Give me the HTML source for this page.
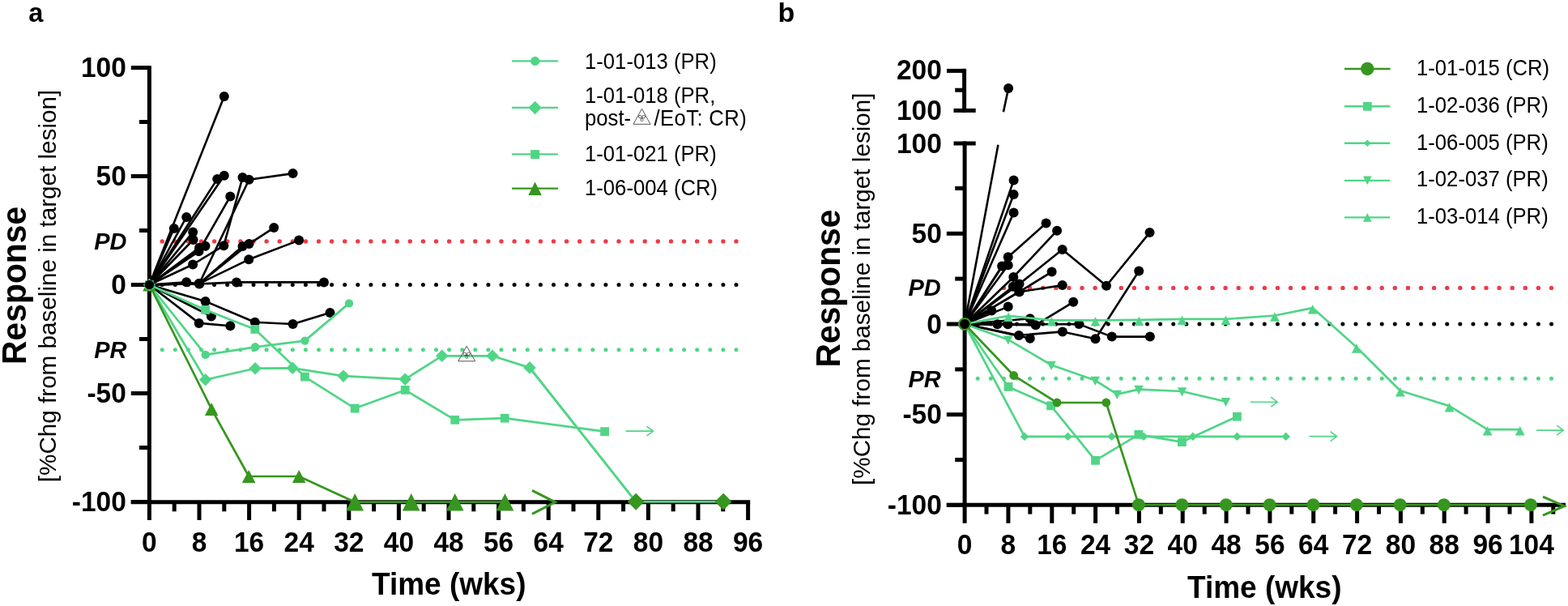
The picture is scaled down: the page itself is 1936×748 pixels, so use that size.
<!DOCTYPE html>
<html><head><meta charset="utf-8"><title>Spider plots</title>
<style>html,body{margin:0;padding:0;background:#fff;}svg{display:block;}</style></head>
<body><svg width="1936" height="748" viewBox="0 0 1936 748">
<rect width="1936" height="748" fill="#fff"/>
<circle cx="200.2" cy="297.9" r="2.7" fill="#ea3d47"/>
<circle cx="216.3" cy="297.9" r="2.7" fill="#ea3d47"/>
<circle cx="232.4" cy="297.9" r="2.7" fill="#ea3d47"/>
<circle cx="248.5" cy="297.9" r="2.7" fill="#ea3d47"/>
<circle cx="264.6" cy="297.9" r="2.7" fill="#ea3d47"/>
<circle cx="280.7" cy="297.9" r="2.7" fill="#ea3d47"/>
<circle cx="296.9" cy="297.9" r="2.7" fill="#ea3d47"/>
<circle cx="313.0" cy="297.9" r="2.7" fill="#ea3d47"/>
<circle cx="329.1" cy="297.9" r="2.7" fill="#ea3d47"/>
<circle cx="345.2" cy="297.9" r="2.7" fill="#ea3d47"/>
<circle cx="361.3" cy="297.9" r="2.7" fill="#ea3d47"/>
<circle cx="377.4" cy="297.9" r="2.7" fill="#ea3d47"/>
<circle cx="393.5" cy="297.9" r="2.7" fill="#ea3d47"/>
<circle cx="409.6" cy="297.9" r="2.7" fill="#ea3d47"/>
<circle cx="425.7" cy="297.9" r="2.7" fill="#ea3d47"/>
<circle cx="441.8" cy="297.9" r="2.7" fill="#ea3d47"/>
<circle cx="457.9" cy="297.9" r="2.7" fill="#ea3d47"/>
<circle cx="474.1" cy="297.9" r="2.7" fill="#ea3d47"/>
<circle cx="490.2" cy="297.9" r="2.7" fill="#ea3d47"/>
<circle cx="506.3" cy="297.9" r="2.7" fill="#ea3d47"/>
<circle cx="522.4" cy="297.9" r="2.7" fill="#ea3d47"/>
<circle cx="538.5" cy="297.9" r="2.7" fill="#ea3d47"/>
<circle cx="554.6" cy="297.9" r="2.7" fill="#ea3d47"/>
<circle cx="570.7" cy="297.9" r="2.7" fill="#ea3d47"/>
<circle cx="586.8" cy="297.9" r="2.7" fill="#ea3d47"/>
<circle cx="602.9" cy="297.9" r="2.7" fill="#ea3d47"/>
<circle cx="619.0" cy="297.9" r="2.7" fill="#ea3d47"/>
<circle cx="635.1" cy="297.9" r="2.7" fill="#ea3d47"/>
<circle cx="651.3" cy="297.9" r="2.7" fill="#ea3d47"/>
<circle cx="667.4" cy="297.9" r="2.7" fill="#ea3d47"/>
<circle cx="683.5" cy="297.9" r="2.7" fill="#ea3d47"/>
<circle cx="699.6" cy="297.9" r="2.7" fill="#ea3d47"/>
<circle cx="715.7" cy="297.9" r="2.7" fill="#ea3d47"/>
<circle cx="731.8" cy="297.9" r="2.7" fill="#ea3d47"/>
<circle cx="747.9" cy="297.9" r="2.7" fill="#ea3d47"/>
<circle cx="764.0" cy="297.9" r="2.7" fill="#ea3d47"/>
<circle cx="780.1" cy="297.9" r="2.7" fill="#ea3d47"/>
<circle cx="796.2" cy="297.9" r="2.7" fill="#ea3d47"/>
<circle cx="812.3" cy="297.9" r="2.7" fill="#ea3d47"/>
<circle cx="828.5" cy="297.9" r="2.7" fill="#ea3d47"/>
<circle cx="844.6" cy="297.9" r="2.7" fill="#ea3d47"/>
<circle cx="860.7" cy="297.9" r="2.7" fill="#ea3d47"/>
<circle cx="876.8" cy="297.9" r="2.7" fill="#ea3d47"/>
<circle cx="892.9" cy="297.9" r="2.7" fill="#ea3d47"/>
<circle cx="909.0" cy="297.9" r="2.7" fill="#ea3d47"/>
<circle cx="200.2" cy="351.4" r="2.5" fill="#000"/>
<circle cx="216.3" cy="351.4" r="2.5" fill="#000"/>
<circle cx="232.4" cy="351.4" r="2.5" fill="#000"/>
<circle cx="248.5" cy="351.4" r="2.5" fill="#000"/>
<circle cx="264.6" cy="351.4" r="2.5" fill="#000"/>
<circle cx="280.7" cy="351.4" r="2.5" fill="#000"/>
<circle cx="296.9" cy="351.4" r="2.5" fill="#000"/>
<circle cx="313.0" cy="351.4" r="2.5" fill="#000"/>
<circle cx="329.1" cy="351.4" r="2.5" fill="#000"/>
<circle cx="345.2" cy="351.4" r="2.5" fill="#000"/>
<circle cx="361.3" cy="351.4" r="2.5" fill="#000"/>
<circle cx="377.4" cy="351.4" r="2.5" fill="#000"/>
<circle cx="393.5" cy="351.4" r="2.5" fill="#000"/>
<circle cx="409.6" cy="351.4" r="2.5" fill="#000"/>
<circle cx="425.7" cy="351.4" r="2.5" fill="#000"/>
<circle cx="441.8" cy="351.4" r="2.5" fill="#000"/>
<circle cx="457.9" cy="351.4" r="2.5" fill="#000"/>
<circle cx="474.1" cy="351.4" r="2.5" fill="#000"/>
<circle cx="490.2" cy="351.4" r="2.5" fill="#000"/>
<circle cx="506.3" cy="351.4" r="2.5" fill="#000"/>
<circle cx="522.4" cy="351.4" r="2.5" fill="#000"/>
<circle cx="538.5" cy="351.4" r="2.5" fill="#000"/>
<circle cx="554.6" cy="351.4" r="2.5" fill="#000"/>
<circle cx="570.7" cy="351.4" r="2.5" fill="#000"/>
<circle cx="586.8" cy="351.4" r="2.5" fill="#000"/>
<circle cx="602.9" cy="351.4" r="2.5" fill="#000"/>
<circle cx="619.0" cy="351.4" r="2.5" fill="#000"/>
<circle cx="635.1" cy="351.4" r="2.5" fill="#000"/>
<circle cx="651.3" cy="351.4" r="2.5" fill="#000"/>
<circle cx="667.4" cy="351.4" r="2.5" fill="#000"/>
<circle cx="683.5" cy="351.4" r="2.5" fill="#000"/>
<circle cx="699.6" cy="351.4" r="2.5" fill="#000"/>
<circle cx="715.7" cy="351.4" r="2.5" fill="#000"/>
<circle cx="731.8" cy="351.4" r="2.5" fill="#000"/>
<circle cx="747.9" cy="351.4" r="2.5" fill="#000"/>
<circle cx="764.0" cy="351.4" r="2.5" fill="#000"/>
<circle cx="780.1" cy="351.4" r="2.5" fill="#000"/>
<circle cx="796.2" cy="351.4" r="2.5" fill="#000"/>
<circle cx="812.3" cy="351.4" r="2.5" fill="#000"/>
<circle cx="828.5" cy="351.4" r="2.5" fill="#000"/>
<circle cx="844.6" cy="351.4" r="2.5" fill="#000"/>
<circle cx="860.7" cy="351.4" r="2.5" fill="#000"/>
<circle cx="876.8" cy="351.4" r="2.5" fill="#000"/>
<circle cx="892.9" cy="351.4" r="2.5" fill="#000"/>
<circle cx="909.0" cy="351.4" r="2.5" fill="#000"/>
<circle cx="200.2" cy="431.8" r="2.5" fill="#50d586"/>
<circle cx="216.3" cy="431.8" r="2.5" fill="#50d586"/>
<circle cx="232.4" cy="431.8" r="2.5" fill="#50d586"/>
<circle cx="248.5" cy="431.8" r="2.5" fill="#50d586"/>
<circle cx="264.6" cy="431.8" r="2.5" fill="#50d586"/>
<circle cx="280.7" cy="431.8" r="2.5" fill="#50d586"/>
<circle cx="296.9" cy="431.8" r="2.5" fill="#50d586"/>
<circle cx="313.0" cy="431.8" r="2.5" fill="#50d586"/>
<circle cx="329.1" cy="431.8" r="2.5" fill="#50d586"/>
<circle cx="345.2" cy="431.8" r="2.5" fill="#50d586"/>
<circle cx="361.3" cy="431.8" r="2.5" fill="#50d586"/>
<circle cx="377.4" cy="431.8" r="2.5" fill="#50d586"/>
<circle cx="393.5" cy="431.8" r="2.5" fill="#50d586"/>
<circle cx="409.6" cy="431.8" r="2.5" fill="#50d586"/>
<circle cx="425.7" cy="431.8" r="2.5" fill="#50d586"/>
<circle cx="441.8" cy="431.8" r="2.5" fill="#50d586"/>
<circle cx="457.9" cy="431.8" r="2.5" fill="#50d586"/>
<circle cx="474.1" cy="431.8" r="2.5" fill="#50d586"/>
<circle cx="490.2" cy="431.8" r="2.5" fill="#50d586"/>
<circle cx="506.3" cy="431.8" r="2.5" fill="#50d586"/>
<circle cx="522.4" cy="431.8" r="2.5" fill="#50d586"/>
<circle cx="538.5" cy="431.8" r="2.5" fill="#50d586"/>
<circle cx="554.6" cy="431.8" r="2.5" fill="#50d586"/>
<circle cx="570.7" cy="431.8" r="2.5" fill="#50d586"/>
<circle cx="586.8" cy="431.8" r="2.5" fill="#50d586"/>
<circle cx="602.9" cy="431.8" r="2.5" fill="#50d586"/>
<circle cx="619.0" cy="431.8" r="2.5" fill="#50d586"/>
<circle cx="635.1" cy="431.8" r="2.5" fill="#50d586"/>
<circle cx="651.3" cy="431.8" r="2.5" fill="#50d586"/>
<circle cx="667.4" cy="431.8" r="2.5" fill="#50d586"/>
<circle cx="683.5" cy="431.8" r="2.5" fill="#50d586"/>
<circle cx="699.6" cy="431.8" r="2.5" fill="#50d586"/>
<circle cx="715.7" cy="431.8" r="2.5" fill="#50d586"/>
<circle cx="731.8" cy="431.8" r="2.5" fill="#50d586"/>
<circle cx="747.9" cy="431.8" r="2.5" fill="#50d586"/>
<circle cx="764.0" cy="431.8" r="2.5" fill="#50d586"/>
<circle cx="780.1" cy="431.8" r="2.5" fill="#50d586"/>
<circle cx="796.2" cy="431.8" r="2.5" fill="#50d586"/>
<circle cx="812.3" cy="431.8" r="2.5" fill="#50d586"/>
<circle cx="828.5" cy="431.8" r="2.5" fill="#50d586"/>
<circle cx="844.6" cy="431.8" r="2.5" fill="#50d586"/>
<circle cx="860.7" cy="431.8" r="2.5" fill="#50d586"/>
<circle cx="876.8" cy="431.8" r="2.5" fill="#50d586"/>
<circle cx="892.9" cy="431.8" r="2.5" fill="#50d586"/>
<circle cx="909.0" cy="431.8" r="2.5" fill="#50d586"/>
<polyline points="184.4,351.5 276.8,118.9" fill="none" stroke="#000" stroke-width="2.6" stroke-linejoin="round"/>
<polyline points="184.4,351.5 214.8,281.9" fill="none" stroke="#000" stroke-width="2.6" stroke-linejoin="round"/>
<polyline points="184.4,351.5 230.2,267.9" fill="none" stroke="#000" stroke-width="2.6" stroke-linejoin="round"/>
<polyline points="184.4,351.5 268.2,221.1" fill="none" stroke="#000" stroke-width="2.6" stroke-linejoin="round"/>
<polyline points="184.4,351.5 276.8,216.8" fill="none" stroke="#000" stroke-width="2.6" stroke-linejoin="round"/>
<polyline points="184.4,351.5 245.4,310.3 284.3,242.5" fill="none" stroke="#000" stroke-width="2.6" stroke-linejoin="round"/>
<polyline points="184.4,351.5 238.2,286.6" fill="none" stroke="#000" stroke-width="2.6" stroke-linejoin="round"/>
<polyline points="184.4,351.5 238.6,296.0" fill="none" stroke="#000" stroke-width="2.6" stroke-linejoin="round"/>
<polyline points="184.4,351.5 253.5,303.7" fill="none" stroke="#000" stroke-width="2.6" stroke-linejoin="round"/>
<polyline points="184.4,351.5 238.1,326.5 276.3,303.2 299.5,219.1" fill="none" stroke="#000" stroke-width="2.6" stroke-linejoin="round"/>
<polyline points="184.4,351.5 246.1,350.0 307.5,221.8 361.6,214.1" fill="none" stroke="#000" stroke-width="2.6" stroke-linejoin="round"/>
<polyline points="184.4,351.5 246.1,350.0 299.5,303.9" fill="none" stroke="#000" stroke-width="2.6" stroke-linejoin="round"/>
<polyline points="184.4,351.5 246.1,350.0 307.5,301.1 338.2,281.1" fill="none" stroke="#000" stroke-width="2.6" stroke-linejoin="round"/>
<polyline points="184.4,351.5 246.1,350.0 307.2,320.3 369.1,296.6" fill="none" stroke="#000" stroke-width="2.6" stroke-linejoin="round"/>
<polyline points="184.4,351.5 246.1,305.7" fill="none" stroke="#000" stroke-width="2.6" stroke-linejoin="round"/>
<polyline points="184.4,351.5 230.2,348.2 246.1,350.5 292.0,348.4 400.0,348.4" fill="none" stroke="#000" stroke-width="2.6" stroke-linejoin="round"/>
<polyline points="184.4,351.5 253.6,372.0 314.8,397.7 361.6,400.0 407.5,385.9" fill="none" stroke="#000" stroke-width="2.6" stroke-linejoin="round"/>
<polyline points="184.4,351.5 260.9,390.5" fill="none" stroke="#000" stroke-width="2.6" stroke-linejoin="round"/>
<polyline points="184.4,351.5 245.7,398.9 284.3,402.3" fill="none" stroke="#000" stroke-width="2.6" stroke-linejoin="round"/>
<circle cx="276.8" cy="118.9" r="6.0" fill="#000"/>
<circle cx="214.8" cy="281.9" r="6.0" fill="#000"/>
<circle cx="230.2" cy="267.9" r="6.0" fill="#000"/>
<circle cx="268.2" cy="221.1" r="6.0" fill="#000"/>
<circle cx="276.8" cy="216.8" r="6.0" fill="#000"/>
<circle cx="245.4" cy="310.3" r="6.0" fill="#000"/>
<circle cx="284.3" cy="242.5" r="6.0" fill="#000"/>
<circle cx="238.2" cy="286.6" r="6.0" fill="#000"/>
<circle cx="238.6" cy="296.0" r="6.0" fill="#000"/>
<circle cx="253.5" cy="303.7" r="6.0" fill="#000"/>
<circle cx="238.1" cy="326.5" r="6.0" fill="#000"/>
<circle cx="276.3" cy="303.2" r="6.0" fill="#000"/>
<circle cx="299.5" cy="219.1" r="6.0" fill="#000"/>
<circle cx="246.1" cy="350.0" r="6.0" fill="#000"/>
<circle cx="307.5" cy="221.8" r="6.0" fill="#000"/>
<circle cx="361.6" cy="214.1" r="6.0" fill="#000"/>
<circle cx="246.1" cy="350.0" r="6.0" fill="#000"/>
<circle cx="299.5" cy="303.9" r="6.0" fill="#000"/>
<circle cx="246.1" cy="350.0" r="6.0" fill="#000"/>
<circle cx="307.5" cy="301.1" r="6.0" fill="#000"/>
<circle cx="338.2" cy="281.1" r="6.0" fill="#000"/>
<circle cx="246.1" cy="350.0" r="6.0" fill="#000"/>
<circle cx="307.2" cy="320.3" r="6.0" fill="#000"/>
<circle cx="369.1" cy="296.6" r="6.0" fill="#000"/>
<circle cx="246.1" cy="305.7" r="6.0" fill="#000"/>
<circle cx="230.2" cy="348.2" r="6.0" fill="#000"/>
<circle cx="246.1" cy="350.5" r="6.0" fill="#000"/>
<circle cx="292.0" cy="348.4" r="6.0" fill="#000"/>
<circle cx="400.0" cy="348.4" r="6.0" fill="#000"/>
<circle cx="253.6" cy="372.0" r="6.0" fill="#000"/>
<circle cx="314.8" cy="397.7" r="6.0" fill="#000"/>
<circle cx="361.6" cy="400.0" r="6.0" fill="#000"/>
<circle cx="407.5" cy="385.9" r="6.0" fill="#000"/>
<circle cx="260.9" cy="390.5" r="6.0" fill="#000"/>
<circle cx="245.7" cy="398.9" r="6.0" fill="#000"/>
<circle cx="284.3" cy="402.3" r="6.0" fill="#000"/>
<polyline points="184.4,351.5 253.7,437.9 315.1,428.3 376.4,420.6 431.0,374.4" fill="none" stroke="#50d586" stroke-width="2.7" stroke-linejoin="round"/>
<circle cx="253.7" cy="437.9" r="5.2" fill="#50d586"/>
<circle cx="315.1" cy="428.3" r="5.2" fill="#50d586"/>
<circle cx="376.4" cy="420.6" r="5.2" fill="#50d586"/>
<circle cx="431.0" cy="374.4" r="5.2" fill="#50d586"/>
<polyline points="184.4,351.5 253.6,382.5 314.8,406.4 376.4,465.1 438.2,504.1 500.2,481.4 561.7,518.3 623.2,516.2 746.6,532.7" fill="none" stroke="#50d586" stroke-width="2.7" stroke-linejoin="round"/>
<rect x="248.2" y="377.1" width="10.8" height="10.8" fill="#50d586"/>
<rect x="309.4" y="401.0" width="10.8" height="10.8" fill="#50d586"/>
<rect x="371.0" y="459.7" width="10.8" height="10.8" fill="#50d586"/>
<rect x="432.8" y="498.7" width="10.8" height="10.8" fill="#50d586"/>
<rect x="494.8" y="476.0" width="10.8" height="10.8" fill="#50d586"/>
<rect x="556.3" y="512.9" width="10.8" height="10.8" fill="#50d586"/>
<rect x="617.8" y="510.8" width="10.8" height="10.8" fill="#50d586"/>
<rect x="741.2" y="527.3" width="10.8" height="10.8" fill="#50d586"/>
<path d="M772.7,532.1 H806.5 M798.5,526.1 L806.5,532.1 L798.5,538.1" fill="none" stroke="#50d586" stroke-width="1.6"/>
<polyline points="184.4,351.5 253.7,468.7 315.1,454.7 361.2,454.3 424.0,464.1 500.2,468.1 545.7,439.3 608.0,439.3 654.0,453.9 785.1,619.3 893.1,619.3" fill="none" stroke="#50d586" stroke-width="2.7" stroke-linejoin="round"/>
<polygon points="253.7,460.9 261.4,468.7 253.7,476.4 245.9,468.7" fill="#50d586"/>
<polygon points="315.1,446.9 322.9,454.7 315.1,462.4 307.4,454.7" fill="#50d586"/>
<polygon points="361.2,446.6 368.9,454.3 361.2,462.1 353.4,454.3" fill="#50d586"/>
<polygon points="424.0,456.4 431.8,464.1 424.0,471.9 416.2,464.1" fill="#50d586"/>
<polygon points="500.2,460.4 507.9,468.1 500.2,475.9 492.4,468.1" fill="#50d586"/>
<polygon points="545.7,431.6 553.5,439.3 545.7,447.1 538.0,439.3" fill="#50d586"/>
<polygon points="608.0,431.6 615.8,439.3 608.0,447.1 600.2,439.3" fill="#50d586"/>
<polygon points="654.0,446.1 661.8,453.9 654.0,461.6 646.2,453.9" fill="#50d586"/>
<polygon points="785.1,609.0 795.4,619.3 785.1,629.5 774.9,619.3" fill="#36961f"/>
<polygon points="893.1,609.0 903.4,619.3 893.1,629.5 882.9,619.3" fill="#36961f"/>
<g><polygon points="576.2,427.2 586.7,445.8 565.7,445.8" fill="none" stroke="#555" stroke-width="1" stroke-linejoin="round"/>
<g fill="none" stroke="#444" stroke-width="0.8"><circle cx="573.9" cy="436.8" r="1.8"/><circle cx="578.5" cy="436.8" r="1.8"/><circle cx="576.2" cy="440.7" r="1.6"/><circle cx="576.2" cy="438.5" r="0.8"/></g></g>
<line x1="184.4" y1="81.2" x2="184.4" y2="622.3" stroke="#000" stroke-width="5" stroke-linecap="butt"/>
<line x1="161.8" y1="83.6" x2="184.4" y2="83.6" stroke="#000" stroke-width="5" stroke-linecap="butt"/>
<line x1="161.8" y1="217.5" x2="184.4" y2="217.5" stroke="#000" stroke-width="5" stroke-linecap="butt"/>
<line x1="161.8" y1="351.5" x2="184.4" y2="351.5" stroke="#000" stroke-width="5" stroke-linecap="butt"/>
<line x1="161.8" y1="485.5" x2="184.4" y2="485.5" stroke="#000" stroke-width="5" stroke-linecap="butt"/>
<line x1="161.8" y1="619.5" x2="184.4" y2="619.5" stroke="#000" stroke-width="5" stroke-linecap="butt"/>
<line x1="172.0" y1="150.5" x2="184.4" y2="150.5" stroke="#000" stroke-width="5" stroke-linecap="butt"/>
<line x1="172.0" y1="284.5" x2="184.4" y2="284.5" stroke="#000" stroke-width="5" stroke-linecap="butt"/>
<line x1="172.0" y1="418.5" x2="184.4" y2="418.5" stroke="#000" stroke-width="5" stroke-linecap="butt"/>
<line x1="172.0" y1="552.5" x2="184.4" y2="552.5" stroke="#000" stroke-width="5" stroke-linecap="butt"/>
<line x1="161.8" y1="619.7" x2="926.2" y2="619.7" stroke="#000" stroke-width="5" stroke-linecap="butt"/>
<line x1="184.4" y1="619.7" x2="184.4" y2="642.0" stroke="#000" stroke-width="5" stroke-linecap="butt"/>
<line x1="246.0" y1="619.7" x2="246.0" y2="642.0" stroke="#000" stroke-width="5" stroke-linecap="butt"/>
<line x1="307.6" y1="619.7" x2="307.6" y2="642.0" stroke="#000" stroke-width="5" stroke-linecap="butt"/>
<line x1="369.2" y1="619.7" x2="369.2" y2="642.0" stroke="#000" stroke-width="5" stroke-linecap="butt"/>
<line x1="430.8" y1="619.7" x2="430.8" y2="642.0" stroke="#000" stroke-width="5" stroke-linecap="butt"/>
<line x1="492.4" y1="619.7" x2="492.4" y2="642.0" stroke="#000" stroke-width="5" stroke-linecap="butt"/>
<line x1="554.0" y1="619.7" x2="554.0" y2="642.0" stroke="#000" stroke-width="5" stroke-linecap="butt"/>
<line x1="615.6" y1="619.7" x2="615.6" y2="642.0" stroke="#000" stroke-width="5" stroke-linecap="butt"/>
<line x1="677.2" y1="619.7" x2="677.2" y2="642.0" stroke="#000" stroke-width="5" stroke-linecap="butt"/>
<line x1="738.8" y1="619.7" x2="738.8" y2="642.0" stroke="#000" stroke-width="5" stroke-linecap="butt"/>
<line x1="800.4" y1="619.7" x2="800.4" y2="642.0" stroke="#000" stroke-width="5" stroke-linecap="butt"/>
<line x1="862.0" y1="619.7" x2="862.0" y2="642.0" stroke="#000" stroke-width="5" stroke-linecap="butt"/>
<line x1="923.6" y1="619.7" x2="923.6" y2="642.0" stroke="#000" stroke-width="5" stroke-linecap="butt"/>
<line x1="215.2" y1="619.7" x2="215.2" y2="631.3" stroke="#000" stroke-width="5" stroke-linecap="butt"/>
<line x1="276.8" y1="619.7" x2="276.8" y2="631.3" stroke="#000" stroke-width="5" stroke-linecap="butt"/>
<line x1="338.4" y1="619.7" x2="338.4" y2="631.3" stroke="#000" stroke-width="5" stroke-linecap="butt"/>
<line x1="400.0" y1="619.7" x2="400.0" y2="631.3" stroke="#000" stroke-width="5" stroke-linecap="butt"/>
<line x1="461.6" y1="619.7" x2="461.6" y2="631.3" stroke="#000" stroke-width="5" stroke-linecap="butt"/>
<line x1="523.2" y1="619.7" x2="523.2" y2="631.3" stroke="#000" stroke-width="5" stroke-linecap="butt"/>
<line x1="584.8" y1="619.7" x2="584.8" y2="631.3" stroke="#000" stroke-width="5" stroke-linecap="butt"/>
<line x1="646.4" y1="619.7" x2="646.4" y2="631.3" stroke="#000" stroke-width="5" stroke-linecap="butt"/>
<line x1="708.0" y1="619.7" x2="708.0" y2="631.3" stroke="#000" stroke-width="5" stroke-linecap="butt"/>
<line x1="769.6" y1="619.7" x2="769.6" y2="631.3" stroke="#000" stroke-width="5" stroke-linecap="butt"/>
<line x1="831.2" y1="619.7" x2="831.2" y2="631.3" stroke="#000" stroke-width="5" stroke-linecap="butt"/>
<line x1="892.8" y1="619.7" x2="892.8" y2="631.3" stroke="#000" stroke-width="5" stroke-linecap="butt"/>
<polyline points="184.4,351.5 261.2,505.0 307.2,588.0 369.2,588.0 438.2,619.7 507.7,619.7 561.7,619.7 623.5,619.7" fill="none" stroke="#36961f" stroke-width="2.7" stroke-linejoin="round"/>
<polygon points="261.2,497.0 269.4,513.0 252.9,513.0" fill="#36961f"/>
<polygon points="307.2,580.0 315.4,596.0 298.9,596.0" fill="#36961f"/>
<polygon points="369.2,580.0 377.4,596.0 360.9,596.0" fill="#36961f"/>
<polygon points="438.2,608.9 449.1,630.6 427.3,630.6" fill="#36961f"/>
<polygon points="507.7,608.9 518.5,630.6 496.8,630.6" fill="#36961f"/>
<polygon points="561.7,608.9 572.6,630.6 550.9,630.6" fill="#36961f"/>
<polygon points="623.5,608.9 634.4,630.6 612.6,630.6" fill="#36961f"/>
<path d="M657.0,605.3 L685.5,619.8 L657.0,634.3" fill="none" stroke="#36961f" stroke-width="3"/>
<polygon points="184.4,343.5 192.7,359.5 176.2,359.5" fill="#36961f"/>
<polygon points="184.4,343.8 192.2,351.5 184.4,359.2 176.7,351.5" fill="#50d586"/>
<rect x="179.0" y="346.1" width="10.8" height="10.8" fill="#50d586"/>
<circle cx="184.4" cy="351.5" r="5.2" fill="#50d586"/>
<circle cx="184.4" cy="351.5" r="5.8" fill="#000"/>
<polyline points="654.0,453.9 785.1,619.3 893.1,619.3" fill="none" stroke="#50d586" stroke-width="2.7" stroke-linejoin="round"/>
<polygon points="785.1,609.0 795.4,619.3 785.1,629.5 774.9,619.3" fill="#36961f"/>
<polygon points="893.1,609.0 903.4,619.3 893.1,629.5 882.9,619.3" fill="#36961f"/>
<g font-family="'Liberation Sans', Arial, Helvetica, sans-serif" fill="#000">
<text transform="translate(35.3,27.3) scale(1,1.0)" font-size="32.5" font-weight="bold" font-style="normal" text-anchor="start" >a</text>
<text transform="translate(155.8,95.2) scale(1,1.065)" font-size="33.5" font-weight="bold" font-style="normal" text-anchor="end" >100</text>
<text transform="translate(155.8,229.1) scale(1,1.065)" font-size="33.5" font-weight="bold" font-style="normal" text-anchor="end" >50</text>
<text transform="translate(155.8,363.1) scale(1,1.065)" font-size="33.5" font-weight="bold" font-style="normal" text-anchor="end" >0</text>
<text transform="translate(155.8,497.1) scale(1,1.065)" font-size="33.5" font-weight="bold" font-style="normal" text-anchor="end" >-50</text>
<text transform="translate(155.8,631.1) scale(1,1.065)" font-size="33.5" font-weight="bold" font-style="normal" text-anchor="end" >-100</text>
<text transform="translate(156.5,308.2) scale(1,1.045)" font-size="29" font-weight="bold" font-style="italic" text-anchor="end" >PD</text>
<text transform="translate(156.5,442.3) scale(1,1.045)" font-size="29" font-weight="bold" font-style="italic" text-anchor="end" >PR</text>
<text transform="translate(184.4,680.6) scale(1,1.065)" font-size="33.5" font-weight="bold" font-style="normal" text-anchor="middle" >0</text>
<text transform="translate(246.0,680.6) scale(1,1.065)" font-size="33.5" font-weight="bold" font-style="normal" text-anchor="middle" >8</text>
<text transform="translate(307.6,680.6) scale(1,1.065)" font-size="33.5" font-weight="bold" font-style="normal" text-anchor="middle" >16</text>
<text transform="translate(369.2,680.6) scale(1,1.065)" font-size="33.5" font-weight="bold" font-style="normal" text-anchor="middle" >24</text>
<text transform="translate(430.8,680.6) scale(1,1.065)" font-size="33.5" font-weight="bold" font-style="normal" text-anchor="middle" >32</text>
<text transform="translate(492.4,680.6) scale(1,1.065)" font-size="33.5" font-weight="bold" font-style="normal" text-anchor="middle" >40</text>
<text transform="translate(554.0,680.6) scale(1,1.065)" font-size="33.5" font-weight="bold" font-style="normal" text-anchor="middle" >48</text>
<text transform="translate(615.6,680.6) scale(1,1.065)" font-size="33.5" font-weight="bold" font-style="normal" text-anchor="middle" >56</text>
<text transform="translate(677.2,680.6) scale(1,1.065)" font-size="33.5" font-weight="bold" font-style="normal" text-anchor="middle" >64</text>
<text transform="translate(738.8,680.6) scale(1,1.065)" font-size="33.5" font-weight="bold" font-style="normal" text-anchor="middle" >72</text>
<text transform="translate(800.4,680.6) scale(1,1.065)" font-size="33.5" font-weight="bold" font-style="normal" text-anchor="middle" >80</text>
<text transform="translate(862.0,680.6) scale(1,1.065)" font-size="33.5" font-weight="bold" font-style="normal" text-anchor="middle" >88</text>
<text transform="translate(923.6,680.6) scale(1,1.065)" font-size="33.5" font-weight="bold" font-style="normal" text-anchor="middle" >96</text>
<text transform="translate(459.0,734.0) scale(1,1.045)" font-size="37" font-weight="bold" font-style="normal" text-anchor="start" >Time (wks)</text>
<text transform="translate(31.8,352.4) rotate(-90) scale(1,1.035)" font-size="40.8" font-weight="bold" text-anchor="middle">Response</text>
<text transform="translate(68.6,353.0) rotate(-90) scale(1,1.02)" font-size="29.65" font-weight="normal" text-anchor="middle">[%Chg from baseline in target lesion]</text>
</g>
<line x1="632.0" y1="75.4" x2="689.0" y2="75.4" stroke="#50d586" stroke-width="2.4" stroke-linecap="butt"/>
<circle cx="660.6" cy="75.4" r="5.6" fill="#50d586"/>
<line x1="632.0" y1="132.9" x2="689.0" y2="132.9" stroke="#50d586" stroke-width="2.4" stroke-linecap="butt"/>
<polygon points="660.6,124.7 668.9,132.9 660.6,141.2 652.4,132.9" fill="#50d586"/>
<line x1="632.0" y1="190.4" x2="689.0" y2="190.4" stroke="#50d586" stroke-width="2.4" stroke-linecap="butt"/>
<rect x="655.1" y="185.1" width="11" height="11" fill="#50d586"/>
<line x1="632.0" y1="232.6" x2="689.0" y2="232.6" stroke="#36961f" stroke-width="2.4" stroke-linecap="butt"/>
<polygon points="660.6,224.5 668.9,240.9 652.3,240.9" fill="#36961f"/>
<g font-family="'Liberation Sans', Arial, Helvetica, sans-serif" fill="#000" font-size="25.7">
<text transform="translate(722.0,84.5) scale(1,1.045)" font-size="25.7" font-weight="normal" font-style="normal" text-anchor="start" >1-01-013 (PR)</text>
<text transform="translate(722.0,126.5) scale(1,1.045)" font-size="25.7" font-weight="normal" font-style="normal" text-anchor="start" >1-01-018 (PR,</text>
<text transform="translate(722.0,154.5) scale(1,1.045)" font-size="25.7" font-weight="normal" font-style="normal" text-anchor="start" >post-</text>
<text transform="translate(807.6,154.5) scale(1,1.045)" font-size="25.7" font-weight="normal" font-style="normal" text-anchor="start" letter-spacing="0.35">/EoT: CR)</text>
<text transform="translate(722.0,198.5) scale(1,1.045)" font-size="25.7" font-weight="normal" font-style="normal" text-anchor="start" >1-01-021 (PR)</text>
<text transform="translate(722.0,240.5) scale(1,1.045)" font-size="25.7" font-weight="normal" font-style="normal" text-anchor="start" >1-06-004 (CR)</text>
</g>
<g><polygon points="792.5,134.3 803.0,153.3 782.0,153.3" fill="none" stroke="#555" stroke-width="1" stroke-linejoin="round"/>
<g fill="none" stroke="#444" stroke-width="0.8"><circle cx="790.2" cy="144.1" r="1.8"/><circle cx="794.8" cy="144.1" r="1.8"/><circle cx="792.5" cy="148.0" r="1.6"/><circle cx="792.5" cy="145.8" r="0.8"/></g></g>
<circle cx="1239.4" cy="355.4" r="2.7" fill="#ea3d47"/>
<circle cx="1255.5" cy="355.4" r="2.7" fill="#ea3d47"/>
<circle cx="1271.6" cy="355.4" r="2.7" fill="#ea3d47"/>
<circle cx="1287.7" cy="355.4" r="2.7" fill="#ea3d47"/>
<circle cx="1303.8" cy="355.4" r="2.7" fill="#ea3d47"/>
<circle cx="1319.9" cy="355.4" r="2.7" fill="#ea3d47"/>
<circle cx="1336.0" cy="355.4" r="2.7" fill="#ea3d47"/>
<circle cx="1352.1" cy="355.4" r="2.7" fill="#ea3d47"/>
<circle cx="1368.2" cy="355.4" r="2.7" fill="#ea3d47"/>
<circle cx="1384.3" cy="355.4" r="2.7" fill="#ea3d47"/>
<circle cx="1400.4" cy="355.4" r="2.7" fill="#ea3d47"/>
<circle cx="1416.5" cy="355.4" r="2.7" fill="#ea3d47"/>
<circle cx="1432.6" cy="355.4" r="2.7" fill="#ea3d47"/>
<circle cx="1448.7" cy="355.4" r="2.7" fill="#ea3d47"/>
<circle cx="1464.8" cy="355.4" r="2.7" fill="#ea3d47"/>
<circle cx="1480.9" cy="355.4" r="2.7" fill="#ea3d47"/>
<circle cx="1497.0" cy="355.4" r="2.7" fill="#ea3d47"/>
<circle cx="1513.1" cy="355.4" r="2.7" fill="#ea3d47"/>
<circle cx="1529.2" cy="355.4" r="2.7" fill="#ea3d47"/>
<circle cx="1545.3" cy="355.4" r="2.7" fill="#ea3d47"/>
<circle cx="1561.4" cy="355.4" r="2.7" fill="#ea3d47"/>
<circle cx="1577.5" cy="355.4" r="2.7" fill="#ea3d47"/>
<circle cx="1593.5" cy="355.4" r="2.7" fill="#ea3d47"/>
<circle cx="1609.6" cy="355.4" r="2.7" fill="#ea3d47"/>
<circle cx="1625.7" cy="355.4" r="2.7" fill="#ea3d47"/>
<circle cx="1641.8" cy="355.4" r="2.7" fill="#ea3d47"/>
<circle cx="1657.9" cy="355.4" r="2.7" fill="#ea3d47"/>
<circle cx="1674.0" cy="355.4" r="2.7" fill="#ea3d47"/>
<circle cx="1690.1" cy="355.4" r="2.7" fill="#ea3d47"/>
<circle cx="1706.2" cy="355.4" r="2.7" fill="#ea3d47"/>
<circle cx="1722.3" cy="355.4" r="2.7" fill="#ea3d47"/>
<circle cx="1738.4" cy="355.4" r="2.7" fill="#ea3d47"/>
<circle cx="1754.5" cy="355.4" r="2.7" fill="#ea3d47"/>
<circle cx="1770.6" cy="355.4" r="2.7" fill="#ea3d47"/>
<circle cx="1786.7" cy="355.4" r="2.7" fill="#ea3d47"/>
<circle cx="1802.8" cy="355.4" r="2.7" fill="#ea3d47"/>
<circle cx="1818.9" cy="355.4" r="2.7" fill="#ea3d47"/>
<circle cx="1835.0" cy="355.4" r="2.7" fill="#ea3d47"/>
<circle cx="1851.1" cy="355.4" r="2.7" fill="#ea3d47"/>
<circle cx="1867.2" cy="355.4" r="2.7" fill="#ea3d47"/>
<circle cx="1883.3" cy="355.4" r="2.7" fill="#ea3d47"/>
<circle cx="1899.4" cy="355.4" r="2.7" fill="#ea3d47"/>
<circle cx="1915.5" cy="355.4" r="2.7" fill="#ea3d47"/>
<circle cx="1207.2" cy="400.1" r="2.5" fill="#000"/>
<circle cx="1223.3" cy="400.1" r="2.5" fill="#000"/>
<circle cx="1239.4" cy="400.1" r="2.5" fill="#000"/>
<circle cx="1255.5" cy="400.1" r="2.5" fill="#000"/>
<circle cx="1271.6" cy="400.1" r="2.5" fill="#000"/>
<circle cx="1287.7" cy="400.1" r="2.5" fill="#000"/>
<circle cx="1303.8" cy="400.1" r="2.5" fill="#000"/>
<circle cx="1319.9" cy="400.1" r="2.5" fill="#000"/>
<circle cx="1336.0" cy="400.1" r="2.5" fill="#000"/>
<circle cx="1352.1" cy="400.1" r="2.5" fill="#000"/>
<circle cx="1368.2" cy="400.1" r="2.5" fill="#000"/>
<circle cx="1384.3" cy="400.1" r="2.5" fill="#000"/>
<circle cx="1400.4" cy="400.1" r="2.5" fill="#000"/>
<circle cx="1416.5" cy="400.1" r="2.5" fill="#000"/>
<circle cx="1432.6" cy="400.1" r="2.5" fill="#000"/>
<circle cx="1448.7" cy="400.1" r="2.5" fill="#000"/>
<circle cx="1464.8" cy="400.1" r="2.5" fill="#000"/>
<circle cx="1480.9" cy="400.1" r="2.5" fill="#000"/>
<circle cx="1497.0" cy="400.1" r="2.5" fill="#000"/>
<circle cx="1513.1" cy="400.1" r="2.5" fill="#000"/>
<circle cx="1529.2" cy="400.1" r="2.5" fill="#000"/>
<circle cx="1545.3" cy="400.1" r="2.5" fill="#000"/>
<circle cx="1561.3" cy="400.1" r="2.5" fill="#000"/>
<circle cx="1577.4" cy="400.1" r="2.5" fill="#000"/>
<circle cx="1593.5" cy="400.1" r="2.5" fill="#000"/>
<circle cx="1609.6" cy="400.1" r="2.5" fill="#000"/>
<circle cx="1625.7" cy="400.1" r="2.5" fill="#000"/>
<circle cx="1641.8" cy="400.1" r="2.5" fill="#000"/>
<circle cx="1657.9" cy="400.1" r="2.5" fill="#000"/>
<circle cx="1674.0" cy="400.1" r="2.5" fill="#000"/>
<circle cx="1690.1" cy="400.1" r="2.5" fill="#000"/>
<circle cx="1706.2" cy="400.1" r="2.5" fill="#000"/>
<circle cx="1722.3" cy="400.1" r="2.5" fill="#000"/>
<circle cx="1738.4" cy="400.1" r="2.5" fill="#000"/>
<circle cx="1754.5" cy="400.1" r="2.5" fill="#000"/>
<circle cx="1770.6" cy="400.1" r="2.5" fill="#000"/>
<circle cx="1786.7" cy="400.1" r="2.5" fill="#000"/>
<circle cx="1802.8" cy="400.1" r="2.5" fill="#000"/>
<circle cx="1818.9" cy="400.1" r="2.5" fill="#000"/>
<circle cx="1835.0" cy="400.1" r="2.5" fill="#000"/>
<circle cx="1851.1" cy="400.1" r="2.5" fill="#000"/>
<circle cx="1867.2" cy="400.1" r="2.5" fill="#000"/>
<circle cx="1883.3" cy="400.1" r="2.5" fill="#000"/>
<circle cx="1899.4" cy="400.1" r="2.5" fill="#000"/>
<circle cx="1915.5" cy="400.1" r="2.5" fill="#000"/>
<circle cx="1207.2" cy="467.2" r="2.5" fill="#50d586"/>
<circle cx="1223.3" cy="467.2" r="2.5" fill="#50d586"/>
<circle cx="1239.4" cy="467.2" r="2.5" fill="#50d586"/>
<circle cx="1255.5" cy="467.2" r="2.5" fill="#50d586"/>
<circle cx="1271.6" cy="467.2" r="2.5" fill="#50d586"/>
<circle cx="1287.7" cy="467.2" r="2.5" fill="#50d586"/>
<circle cx="1303.8" cy="467.2" r="2.5" fill="#50d586"/>
<circle cx="1319.9" cy="467.2" r="2.5" fill="#50d586"/>
<circle cx="1336.0" cy="467.2" r="2.5" fill="#50d586"/>
<circle cx="1352.1" cy="467.2" r="2.5" fill="#50d586"/>
<circle cx="1368.2" cy="467.2" r="2.5" fill="#50d586"/>
<circle cx="1384.3" cy="467.2" r="2.5" fill="#50d586"/>
<circle cx="1400.4" cy="467.2" r="2.5" fill="#50d586"/>
<circle cx="1416.5" cy="467.2" r="2.5" fill="#50d586"/>
<circle cx="1432.6" cy="467.2" r="2.5" fill="#50d586"/>
<circle cx="1448.7" cy="467.2" r="2.5" fill="#50d586"/>
<circle cx="1464.8" cy="467.2" r="2.5" fill="#50d586"/>
<circle cx="1480.9" cy="467.2" r="2.5" fill="#50d586"/>
<circle cx="1497.0" cy="467.2" r="2.5" fill="#50d586"/>
<circle cx="1513.1" cy="467.2" r="2.5" fill="#50d586"/>
<circle cx="1529.2" cy="467.2" r="2.5" fill="#50d586"/>
<circle cx="1545.3" cy="467.2" r="2.5" fill="#50d586"/>
<circle cx="1561.3" cy="467.2" r="2.5" fill="#50d586"/>
<circle cx="1577.4" cy="467.2" r="2.5" fill="#50d586"/>
<circle cx="1593.5" cy="467.2" r="2.5" fill="#50d586"/>
<circle cx="1609.6" cy="467.2" r="2.5" fill="#50d586"/>
<circle cx="1625.7" cy="467.2" r="2.5" fill="#50d586"/>
<circle cx="1641.8" cy="467.2" r="2.5" fill="#50d586"/>
<circle cx="1657.9" cy="467.2" r="2.5" fill="#50d586"/>
<circle cx="1674.0" cy="467.2" r="2.5" fill="#50d586"/>
<circle cx="1690.1" cy="467.2" r="2.5" fill="#50d586"/>
<circle cx="1706.2" cy="467.2" r="2.5" fill="#50d586"/>
<circle cx="1722.3" cy="467.2" r="2.5" fill="#50d586"/>
<circle cx="1738.4" cy="467.2" r="2.5" fill="#50d586"/>
<circle cx="1754.5" cy="467.2" r="2.5" fill="#50d586"/>
<circle cx="1770.6" cy="467.2" r="2.5" fill="#50d586"/>
<circle cx="1786.7" cy="467.2" r="2.5" fill="#50d586"/>
<circle cx="1802.8" cy="467.2" r="2.5" fill="#50d586"/>
<circle cx="1818.9" cy="467.2" r="2.5" fill="#50d586"/>
<circle cx="1835.0" cy="467.2" r="2.5" fill="#50d586"/>
<circle cx="1851.1" cy="467.2" r="2.5" fill="#50d586"/>
<circle cx="1867.2" cy="467.2" r="2.5" fill="#50d586"/>
<circle cx="1883.3" cy="467.2" r="2.5" fill="#50d586"/>
<circle cx="1899.4" cy="467.2" r="2.5" fill="#50d586"/>
<circle cx="1915.5" cy="467.2" r="2.5" fill="#50d586"/>
<polyline points="1191.1,400.0 1251.6,222.4" fill="none" stroke="#000" stroke-width="2.6" stroke-linejoin="round"/>
<polyline points="1191.1,400.0 1251.6,240.0" fill="none" stroke="#000" stroke-width="2.6" stroke-linejoin="round"/>
<polyline points="1191.1,400.0 1251.6,262.6" fill="none" stroke="#000" stroke-width="2.6" stroke-linejoin="round"/>
<polyline points="1191.1,400.0 1244.7,317.3 1291.6,275.5" fill="none" stroke="#000" stroke-width="2.6" stroke-linejoin="round"/>
<polyline points="1191.1,400.0 1251.3,342.0 1305.1,284.7" fill="none" stroke="#000" stroke-width="2.6" stroke-linejoin="round"/>
<polyline points="1191.1,400.0 1258.5,350.5 1311.7,308.0 1366.0,352.7 1419.5,287.1" fill="none" stroke="#000" stroke-width="2.6" stroke-linejoin="round"/>
<polyline points="1191.1,400.0 1258.5,360.2 1298.6,335.6" fill="none" stroke="#000" stroke-width="2.6" stroke-linejoin="round"/>
<polyline points="1191.1,400.0 1258.5,360.2 1311.7,352.1" fill="none" stroke="#000" stroke-width="2.6" stroke-linejoin="round"/>
<polyline points="1191.1,400.0 1250.8,353.7" fill="none" stroke="#000" stroke-width="2.6" stroke-linejoin="round"/>
<polyline points="1191.1,400.0 1244.7,327.3" fill="none" stroke="#000" stroke-width="2.6" stroke-linejoin="round"/>
<polyline points="1191.1,400.0 1237.1,328.6" fill="none" stroke="#000" stroke-width="2.6" stroke-linejoin="round"/>
<polyline points="1191.1,400.0 1244.7,378.6" fill="none" stroke="#000" stroke-width="2.6" stroke-linejoin="round"/>
<polyline points="1191.1,400.0 1224.3,383.4" fill="none" stroke="#000" stroke-width="2.6" stroke-linejoin="round"/>
<polyline points="1191.1,400.0 1271.8,393.2" fill="none" stroke="#000" stroke-width="2.6" stroke-linejoin="round"/>
<polyline points="1191.1,400.0 1278.7,401.2 1325.2,372.8" fill="none" stroke="#000" stroke-width="2.6" stroke-linejoin="round"/>
<polyline points="1191.1,400.0 1231.5,400.3" fill="none" stroke="#000" stroke-width="2.6" stroke-linejoin="round"/>
<polyline points="1191.1,400.0 1244.4,400.3 1332.2,400.1 1372.8,415.6 1419.9,415.6" fill="none" stroke="#000" stroke-width="2.6" stroke-linejoin="round"/>
<polyline points="1191.1,400.0 1258.0,413.9 1311.9,409.4 1352.5,418.3 1406.2,334.5" fill="none" stroke="#000" stroke-width="2.6" stroke-linejoin="round"/>
<polyline points="1191.1,400.0 1271.8,417.8" fill="none" stroke="#000" stroke-width="2.6" stroke-linejoin="round"/>
<line x1="1191.1" y1="400.0" x2="1232.4" y2="178.7" stroke="#000" stroke-width="2.6" stroke-linecap="butt"/>
<line x1="1238.9" y1="138.2" x2="1245.1" y2="108.9" stroke="#000" stroke-width="2.6" stroke-linecap="butt"/>
<circle cx="1245.1" cy="108.9" r="6.0" fill="#000"/>
<circle cx="1251.6" cy="222.4" r="6.0" fill="#000"/>
<circle cx="1251.6" cy="240.0" r="6.0" fill="#000"/>
<circle cx="1251.6" cy="262.6" r="6.0" fill="#000"/>
<circle cx="1244.7" cy="317.3" r="6.0" fill="#000"/>
<circle cx="1291.6" cy="275.5" r="6.0" fill="#000"/>
<circle cx="1251.3" cy="342.0" r="6.0" fill="#000"/>
<circle cx="1305.1" cy="284.7" r="6.0" fill="#000"/>
<circle cx="1258.5" cy="350.5" r="6.0" fill="#000"/>
<circle cx="1311.7" cy="308.0" r="6.0" fill="#000"/>
<circle cx="1366.0" cy="352.7" r="6.0" fill="#000"/>
<circle cx="1419.5" cy="287.1" r="6.0" fill="#000"/>
<circle cx="1258.5" cy="360.2" r="6.0" fill="#000"/>
<circle cx="1298.6" cy="335.6" r="6.0" fill="#000"/>
<circle cx="1258.5" cy="360.2" r="6.0" fill="#000"/>
<circle cx="1311.7" cy="352.1" r="6.0" fill="#000"/>
<circle cx="1250.8" cy="353.7" r="6.0" fill="#000"/>
<circle cx="1244.7" cy="327.3" r="6.0" fill="#000"/>
<circle cx="1237.1" cy="328.6" r="6.0" fill="#000"/>
<circle cx="1244.7" cy="378.6" r="6.0" fill="#000"/>
<circle cx="1224.3" cy="383.4" r="6.0" fill="#000"/>
<circle cx="1271.8" cy="393.2" r="6.0" fill="#000"/>
<circle cx="1278.7" cy="401.2" r="6.0" fill="#000"/>
<circle cx="1325.2" cy="372.8" r="6.0" fill="#000"/>
<circle cx="1231.5" cy="400.3" r="6.0" fill="#000"/>
<circle cx="1244.4" cy="400.3" r="6.0" fill="#000"/>
<circle cx="1332.2" cy="400.1" r="6.0" fill="#000"/>
<circle cx="1372.8" cy="415.6" r="6.0" fill="#000"/>
<circle cx="1419.9" cy="415.6" r="6.0" fill="#000"/>
<circle cx="1258.0" cy="413.9" r="6.0" fill="#000"/>
<circle cx="1311.9" cy="409.4" r="6.0" fill="#000"/>
<circle cx="1352.5" cy="418.3" r="6.0" fill="#000"/>
<circle cx="1406.2" cy="334.5" r="6.0" fill="#000"/>
<circle cx="1271.8" cy="417.8" r="6.0" fill="#000"/>
<polyline points="1191.1,400.0 1245.2,389.9 1298.5,395.4 1352.5,395.4 1406.3,394.9 1459.5,393.9 1513.5,393.9 1573.9,389.5 1620.7,380.1 1674.9,428.5 1728.9,482.3 1789.5,501.1 1836.6,530.1 1876.7,530.1" fill="none" stroke="#50d586" stroke-width="2.7" stroke-linejoin="round"/>
<polygon points="1245.2,385.6 1251.1,397.1 1239.3,397.1" fill="#50d586"/>
<polygon points="1298.5,391.1 1304.4,402.6 1292.6,402.6" fill="#50d586"/>
<polygon points="1352.5,391.1 1358.4,402.6 1346.6,402.6" fill="#50d586"/>
<polygon points="1406.3,390.6 1412.2,402.1 1400.4,402.1" fill="#50d586"/>
<polygon points="1459.5,389.6 1465.4,401.1 1453.6,401.1" fill="#50d586"/>
<polygon points="1513.5,389.6 1519.4,401.1 1507.6,401.1" fill="#50d586"/>
<polygon points="1573.9,385.2 1579.8,396.8 1568.0,396.8" fill="#50d586"/>
<polygon points="1620.7,375.9 1626.6,387.4 1614.8,387.4" fill="#50d586"/>
<polygon points="1674.9,424.2 1680.8,435.8 1669.0,435.8" fill="#50d586"/>
<polygon points="1728.9,478.1 1734.8,489.6 1723.0,489.6" fill="#50d586"/>
<polygon points="1789.5,496.9 1795.4,508.4 1783.6,508.4" fill="#50d586"/>
<polygon points="1836.6,525.9 1842.5,537.4 1830.7,537.4" fill="#50d586"/>
<polygon points="1876.7,525.9 1882.6,537.4 1870.8,537.4" fill="#50d586"/>
<path d="M1897.0,531.1 H1930.2 M1922.2,525.1 L1930.2,531.1 L1922.2,537.1" fill="none" stroke="#50d586" stroke-width="1.6"/>
<polyline points="1191.1,400.0 1244.8,419.2 1298.0,450.5 1352.3,469.5 1379.3,486.6 1406.0,480.6 1459.5,483.0 1513.5,495.7" fill="none" stroke="#50d586" stroke-width="2.7" stroke-linejoin="round"/>
<polygon points="1244.8,425.6 1250.5,414.4 1239.0,414.4" fill="#50d586"/>
<polygon points="1298.0,456.9 1303.8,445.7 1292.2,445.7" fill="#50d586"/>
<polygon points="1352.3,475.9 1358.0,464.7 1346.5,464.7" fill="#50d586"/>
<polygon points="1379.3,493.0 1385.0,481.8 1373.5,481.8" fill="#50d586"/>
<polygon points="1406.0,487.0 1411.8,475.8 1400.2,475.8" fill="#50d586"/>
<polygon points="1459.5,489.4 1465.2,478.2 1453.8,478.2" fill="#50d586"/>
<polygon points="1513.5,502.1 1519.2,490.9 1507.8,490.9" fill="#50d586"/>
<path d="M1544.0,496.2 H1577.2 M1569.2,490.2 L1577.2,496.2 L1569.2,502.2" fill="none" stroke="#50d586" stroke-width="1.6"/>
<polyline points="1191.1,400.0 1245.0,477.4 1297.6,500.8 1352.5,568.3 1405.9,536.3 1459.4,545.6 1527.4,514.2" fill="none" stroke="#50d586" stroke-width="2.7" stroke-linejoin="round"/>
<rect x="1239.6" y="472.0" width="10.8" height="10.8" fill="#50d586"/>
<rect x="1292.2" y="495.4" width="10.8" height="10.8" fill="#50d586"/>
<rect x="1347.1" y="562.9" width="10.8" height="10.8" fill="#50d586"/>
<rect x="1400.5" y="530.9" width="10.8" height="10.8" fill="#50d586"/>
<rect x="1454.0" y="540.2" width="10.8" height="10.8" fill="#50d586"/>
<rect x="1522.0" y="508.8" width="10.8" height="10.8" fill="#50d586"/>
<polyline points="1191.1,400.0 1265.0,538.9 1318.5,538.9 1372.5,538.9 1412.1,538.9 1472.8,538.9 1527.4,538.9 1587.7,538.9" fill="none" stroke="#50d586" stroke-width="2.7" stroke-linejoin="round"/>
<polygon points="1265.0,533.6 1270.2,538.9 1265.0,544.1 1259.8,538.9" fill="#50d586"/>
<polygon points="1318.5,533.6 1323.8,538.9 1318.5,544.1 1313.2,538.9" fill="#50d586"/>
<polygon points="1372.5,533.6 1377.8,538.9 1372.5,544.1 1367.2,538.9" fill="#50d586"/>
<polygon points="1412.1,533.6 1417.3,538.9 1412.1,544.1 1406.8,538.9" fill="#50d586"/>
<polygon points="1472.8,533.6 1478.0,538.9 1472.8,544.1 1467.5,538.9" fill="#50d586"/>
<polygon points="1527.4,533.6 1532.7,538.9 1527.4,544.1 1522.2,538.9" fill="#50d586"/>
<polygon points="1587.7,533.6 1593.0,538.9 1587.7,544.1 1582.5,538.9" fill="#50d586"/>
<path d="M1616.5,538.6 H1650.6 M1642.6,532.6 L1650.6,538.6 L1642.6,544.6" fill="none" stroke="#50d586" stroke-width="1.6"/>
<line x1="1190.6" y1="84.8" x2="1190.6" y2="139.0" stroke="#000" stroke-width="5" stroke-linecap="butt"/>
<line x1="1169.0" y1="87.4" x2="1190.6" y2="87.4" stroke="#000" stroke-width="5" stroke-linecap="butt"/>
<line x1="1179.2" y1="111.2" x2="1190.6" y2="111.2" stroke="#000" stroke-width="5" stroke-linecap="butt"/>
<line x1="1177.5" y1="136.4" x2="1204.7" y2="136.4" stroke="#000" stroke-width="5" stroke-linecap="butt"/>
<line x1="1191.1" y1="174.5" x2="1191.1" y2="625.5" stroke="#000" stroke-width="5" stroke-linecap="butt"/>
<line x1="1177.5" y1="177.0" x2="1204.7" y2="177.0" stroke="#000" stroke-width="5" stroke-linecap="butt"/>
<line x1="1168.8" y1="288.3" x2="1191.1" y2="288.3" stroke="#000" stroke-width="5" stroke-linecap="butt"/>
<line x1="1168.8" y1="400.0" x2="1191.1" y2="400.0" stroke="#000" stroke-width="5" stroke-linecap="butt"/>
<line x1="1168.8" y1="511.7" x2="1191.1" y2="511.7" stroke="#000" stroke-width="5" stroke-linecap="butt"/>
<line x1="1168.8" y1="623.4" x2="1191.1" y2="623.4" stroke="#000" stroke-width="5" stroke-linecap="butt"/>
<line x1="1179.2" y1="232.4" x2="1191.1" y2="232.4" stroke="#000" stroke-width="5" stroke-linecap="butt"/>
<line x1="1179.2" y1="344.1" x2="1191.1" y2="344.1" stroke="#000" stroke-width="5" stroke-linecap="butt"/>
<line x1="1179.2" y1="455.9" x2="1191.1" y2="455.9" stroke="#000" stroke-width="5" stroke-linecap="butt"/>
<line x1="1179.2" y1="567.5" x2="1191.1" y2="567.5" stroke="#000" stroke-width="5" stroke-linecap="butt"/>
<line x1="1168.8" y1="623.2" x2="1933.0" y2="623.2" stroke="#000" stroke-width="5" stroke-linecap="butt"/>
<line x1="1191.1" y1="623.2" x2="1191.1" y2="645.8" stroke="#000" stroke-width="5" stroke-linecap="butt"/>
<line x1="1244.9" y1="623.2" x2="1244.9" y2="645.8" stroke="#000" stroke-width="5" stroke-linecap="butt"/>
<line x1="1298.8" y1="623.2" x2="1298.8" y2="645.8" stroke="#000" stroke-width="5" stroke-linecap="butt"/>
<line x1="1352.6" y1="623.2" x2="1352.6" y2="645.8" stroke="#000" stroke-width="5" stroke-linecap="butt"/>
<line x1="1406.4" y1="623.2" x2="1406.4" y2="645.8" stroke="#000" stroke-width="5" stroke-linecap="butt"/>
<line x1="1460.2" y1="623.2" x2="1460.2" y2="645.8" stroke="#000" stroke-width="5" stroke-linecap="butt"/>
<line x1="1514.1" y1="623.2" x2="1514.1" y2="645.8" stroke="#000" stroke-width="5" stroke-linecap="butt"/>
<line x1="1567.9" y1="623.2" x2="1567.9" y2="645.8" stroke="#000" stroke-width="5" stroke-linecap="butt"/>
<line x1="1621.7" y1="623.2" x2="1621.7" y2="645.8" stroke="#000" stroke-width="5" stroke-linecap="butt"/>
<line x1="1675.6" y1="623.2" x2="1675.6" y2="645.8" stroke="#000" stroke-width="5" stroke-linecap="butt"/>
<line x1="1729.4" y1="623.2" x2="1729.4" y2="645.8" stroke="#000" stroke-width="5" stroke-linecap="butt"/>
<line x1="1783.2" y1="623.2" x2="1783.2" y2="645.8" stroke="#000" stroke-width="5" stroke-linecap="butt"/>
<line x1="1837.1" y1="623.2" x2="1837.1" y2="645.8" stroke="#000" stroke-width="5" stroke-linecap="butt"/>
<line x1="1890.9" y1="623.2" x2="1890.9" y2="645.8" stroke="#000" stroke-width="5" stroke-linecap="butt"/>
<line x1="1218.0" y1="623.2" x2="1218.0" y2="634.6" stroke="#000" stroke-width="5" stroke-linecap="butt"/>
<line x1="1271.8" y1="623.2" x2="1271.8" y2="634.6" stroke="#000" stroke-width="5" stroke-linecap="butt"/>
<line x1="1325.7" y1="623.2" x2="1325.7" y2="634.6" stroke="#000" stroke-width="5" stroke-linecap="butt"/>
<line x1="1379.5" y1="623.2" x2="1379.5" y2="634.6" stroke="#000" stroke-width="5" stroke-linecap="butt"/>
<line x1="1433.3" y1="623.2" x2="1433.3" y2="634.6" stroke="#000" stroke-width="5" stroke-linecap="butt"/>
<line x1="1487.2" y1="623.2" x2="1487.2" y2="634.6" stroke="#000" stroke-width="5" stroke-linecap="butt"/>
<line x1="1541.0" y1="623.2" x2="1541.0" y2="634.6" stroke="#000" stroke-width="5" stroke-linecap="butt"/>
<line x1="1594.8" y1="623.2" x2="1594.8" y2="634.6" stroke="#000" stroke-width="5" stroke-linecap="butt"/>
<line x1="1648.6" y1="623.2" x2="1648.6" y2="634.6" stroke="#000" stroke-width="5" stroke-linecap="butt"/>
<line x1="1702.5" y1="623.2" x2="1702.5" y2="634.6" stroke="#000" stroke-width="5" stroke-linecap="butt"/>
<line x1="1756.3" y1="623.2" x2="1756.3" y2="634.6" stroke="#000" stroke-width="5" stroke-linecap="butt"/>
<line x1="1810.1" y1="623.2" x2="1810.1" y2="634.6" stroke="#000" stroke-width="5" stroke-linecap="butt"/>
<line x1="1864.0" y1="623.2" x2="1864.0" y2="634.6" stroke="#000" stroke-width="5" stroke-linecap="butt"/>
<line x1="1917.8" y1="623.2" x2="1917.8" y2="634.6" stroke="#000" stroke-width="5" stroke-linecap="butt"/>
<polyline points="1191.1,400.0 1251.7,463.5 1305.1,497.0 1365.8,497.0 1405.9,623.2 1459.4,623.2 1513.8,623.2 1567.6,623.2 1621.4,623.2 1674.9,623.2 1728.7,623.2 1782.8,623.2 1889.9,623.2" fill="none" stroke="#36961f" stroke-width="2.7" stroke-linejoin="round"/>
<circle cx="1251.7" cy="463.5" r="5.4" fill="#36961f"/>
<circle cx="1305.1" cy="497.0" r="5.4" fill="#36961f"/>
<circle cx="1365.8" cy="497.0" r="5.4" fill="#36961f"/>
<circle cx="1405.9" cy="623.2" r="8" fill="#36961f"/>
<circle cx="1459.4" cy="623.2" r="8" fill="#36961f"/>
<circle cx="1513.8" cy="623.2" r="8" fill="#36961f"/>
<circle cx="1567.6" cy="623.2" r="8" fill="#36961f"/>
<circle cx="1621.4" cy="623.2" r="8" fill="#36961f"/>
<circle cx="1674.9" cy="623.2" r="8" fill="#36961f"/>
<circle cx="1728.7" cy="623.2" r="8" fill="#36961f"/>
<circle cx="1782.8" cy="623.2" r="8" fill="#36961f"/>
<circle cx="1889.9" cy="623.2" r="8" fill="#36961f"/>
<path d="M1905.0,613.2 L1931.5,624.7 L1905.0,636.2" fill="none" stroke="#36961f" stroke-width="3"/>
<circle cx="1191.1" cy="400" r="7" fill="#000" stroke="#36961f" stroke-width="2.2"/>
<g font-family="'Liberation Sans', Arial, Helvetica, sans-serif" fill="#000">
<text transform="translate(960.6,27.3) scale(1,1.0)" font-size="34" font-weight="bold" font-style="normal" text-anchor="start" >b</text>
<text transform="translate(1162.8,98.4) scale(1,1.065)" font-size="33.5" font-weight="bold" font-style="normal" text-anchor="end" >200</text>
<text transform="translate(1162.8,147.8) scale(1,1.065)" font-size="33.5" font-weight="bold" font-style="normal" text-anchor="end" >100</text>
<text transform="translate(1162.8,188.7) scale(1,1.065)" font-size="33.5" font-weight="bold" font-style="normal" text-anchor="end" >100</text>
<text transform="translate(1162.8,299.9) scale(1,1.065)" font-size="33.5" font-weight="bold" font-style="normal" text-anchor="end" >50</text>
<text transform="translate(1162.8,411.6) scale(1,1.065)" font-size="33.5" font-weight="bold" font-style="normal" text-anchor="end" >0</text>
<text transform="translate(1162.8,523.3) scale(1,1.065)" font-size="33.5" font-weight="bold" font-style="normal" text-anchor="end" >-50</text>
<text transform="translate(1162.8,635.0) scale(1,1.065)" font-size="33.5" font-weight="bold" font-style="normal" text-anchor="end" >-100</text>
<text transform="translate(1161.7,365.2) scale(1,1.045)" font-size="29" font-weight="bold" font-style="italic" text-anchor="end" >PD</text>
<text transform="translate(1161.7,477.7) scale(1,1.045)" font-size="29" font-weight="bold" font-style="italic" text-anchor="end" >PR</text>
<text transform="translate(1191.1,683.9) scale(1,1.065)" font-size="33.5" font-weight="bold" font-style="normal" text-anchor="middle" >0</text>
<text transform="translate(1244.9,683.9) scale(1,1.065)" font-size="33.5" font-weight="bold" font-style="normal" text-anchor="middle" >8</text>
<text transform="translate(1298.8,683.9) scale(1,1.065)" font-size="33.5" font-weight="bold" font-style="normal" text-anchor="middle" >16</text>
<text transform="translate(1352.6,683.9) scale(1,1.065)" font-size="33.5" font-weight="bold" font-style="normal" text-anchor="middle" >24</text>
<text transform="translate(1406.4,683.9) scale(1,1.065)" font-size="33.5" font-weight="bold" font-style="normal" text-anchor="middle" >32</text>
<text transform="translate(1460.2,683.9) scale(1,1.065)" font-size="33.5" font-weight="bold" font-style="normal" text-anchor="middle" >40</text>
<text transform="translate(1514.1,683.9) scale(1,1.065)" font-size="33.5" font-weight="bold" font-style="normal" text-anchor="middle" >48</text>
<text transform="translate(1567.9,683.9) scale(1,1.065)" font-size="33.5" font-weight="bold" font-style="normal" text-anchor="middle" >56</text>
<text transform="translate(1621.7,683.9) scale(1,1.065)" font-size="33.5" font-weight="bold" font-style="normal" text-anchor="middle" >64</text>
<text transform="translate(1675.6,683.9) scale(1,1.065)" font-size="33.5" font-weight="bold" font-style="normal" text-anchor="middle" >72</text>
<text transform="translate(1729.4,683.9) scale(1,1.065)" font-size="33.5" font-weight="bold" font-style="normal" text-anchor="middle" >80</text>
<text transform="translate(1783.2,683.9) scale(1,1.065)" font-size="33.5" font-weight="bold" font-style="normal" text-anchor="middle" >88</text>
<text transform="translate(1837.1,683.9) scale(1,1.065)" font-size="33.5" font-weight="bold" font-style="normal" text-anchor="middle" >96</text>
<text transform="translate(1890.9,683.9) scale(1,1.065)" font-size="33.5" font-weight="bold" font-style="normal" text-anchor="middle" >104</text>
<text transform="translate(1466.0,737.5) scale(1,1.045)" font-size="37" font-weight="bold" font-style="normal" text-anchor="start" >Time (wks)</text>
<text transform="translate(1036.5,356.0) rotate(-90) scale(1,1.035)" font-size="40.8" font-weight="bold" text-anchor="middle">Response</text>
<text transform="translate(1073.6,356.7) rotate(-90) scale(1,1.02)" font-size="29.65" font-weight="normal" text-anchor="middle">[%Chg from baseline in target lesion]</text>
</g>
<line x1="1660.0" y1="85.0" x2="1716.6" y2="85.0" stroke="#36961f" stroke-width="2.4" stroke-linecap="butt"/>
<circle cx="1688.3" cy="85.0" r="8.2" fill="#36961f"/>
<line x1="1660.0" y1="131.3" x2="1716.2" y2="131.3" stroke="#50d586" stroke-width="2.4" stroke-linecap="butt"/>
<rect x="1682.9" y="125.9" width="10.8" height="10.8" fill="#50d586"/>
<line x1="1660.0" y1="176.8" x2="1716.2" y2="176.8" stroke="#50d586" stroke-width="2.4" stroke-linecap="butt"/>
<polygon points="1688.3,172.5 1692.6,176.8 1688.3,181.1 1684.0,176.8" fill="#50d586"/>
<line x1="1660.0" y1="222.9" x2="1716.2" y2="222.9" stroke="#50d586" stroke-width="2.4" stroke-linecap="butt"/>
<polygon points="1688.3,228.2 1693.6,217.6 1683.0,217.6" fill="#50d586"/>
<line x1="1660.0" y1="268.4" x2="1716.2" y2="268.4" stroke="#50d586" stroke-width="2.4" stroke-linecap="butt"/>
<polygon points="1688.3,263.0 1693.6,273.8 1683.0,273.8" fill="#50d586"/>
<g font-family="'Liberation Sans', Arial, Helvetica, sans-serif" fill="#000" font-size="25.7">
<text transform="translate(1749.0,93.2) scale(1,1.045)" font-size="25.7" font-weight="normal" font-style="normal" text-anchor="start" >1-01-015 (CR)</text>
<text transform="translate(1749.0,138.9) scale(1,1.045)" font-size="25.7" font-weight="normal" font-style="normal" text-anchor="start" >1-02-036 (PR)</text>
<text transform="translate(1749.0,184.6) scale(1,1.045)" font-size="25.7" font-weight="normal" font-style="normal" text-anchor="start" >1-06-005 (PR)</text>
<text transform="translate(1749.0,230.3) scale(1,1.045)" font-size="25.7" font-weight="normal" font-style="normal" text-anchor="start" >1-02-037 (PR)</text>
<text transform="translate(1749.0,276.0) scale(1,1.045)" font-size="25.7" font-weight="normal" font-style="normal" text-anchor="start" >1-03-014 (PR)</text>
</g>
</svg></body></html>
